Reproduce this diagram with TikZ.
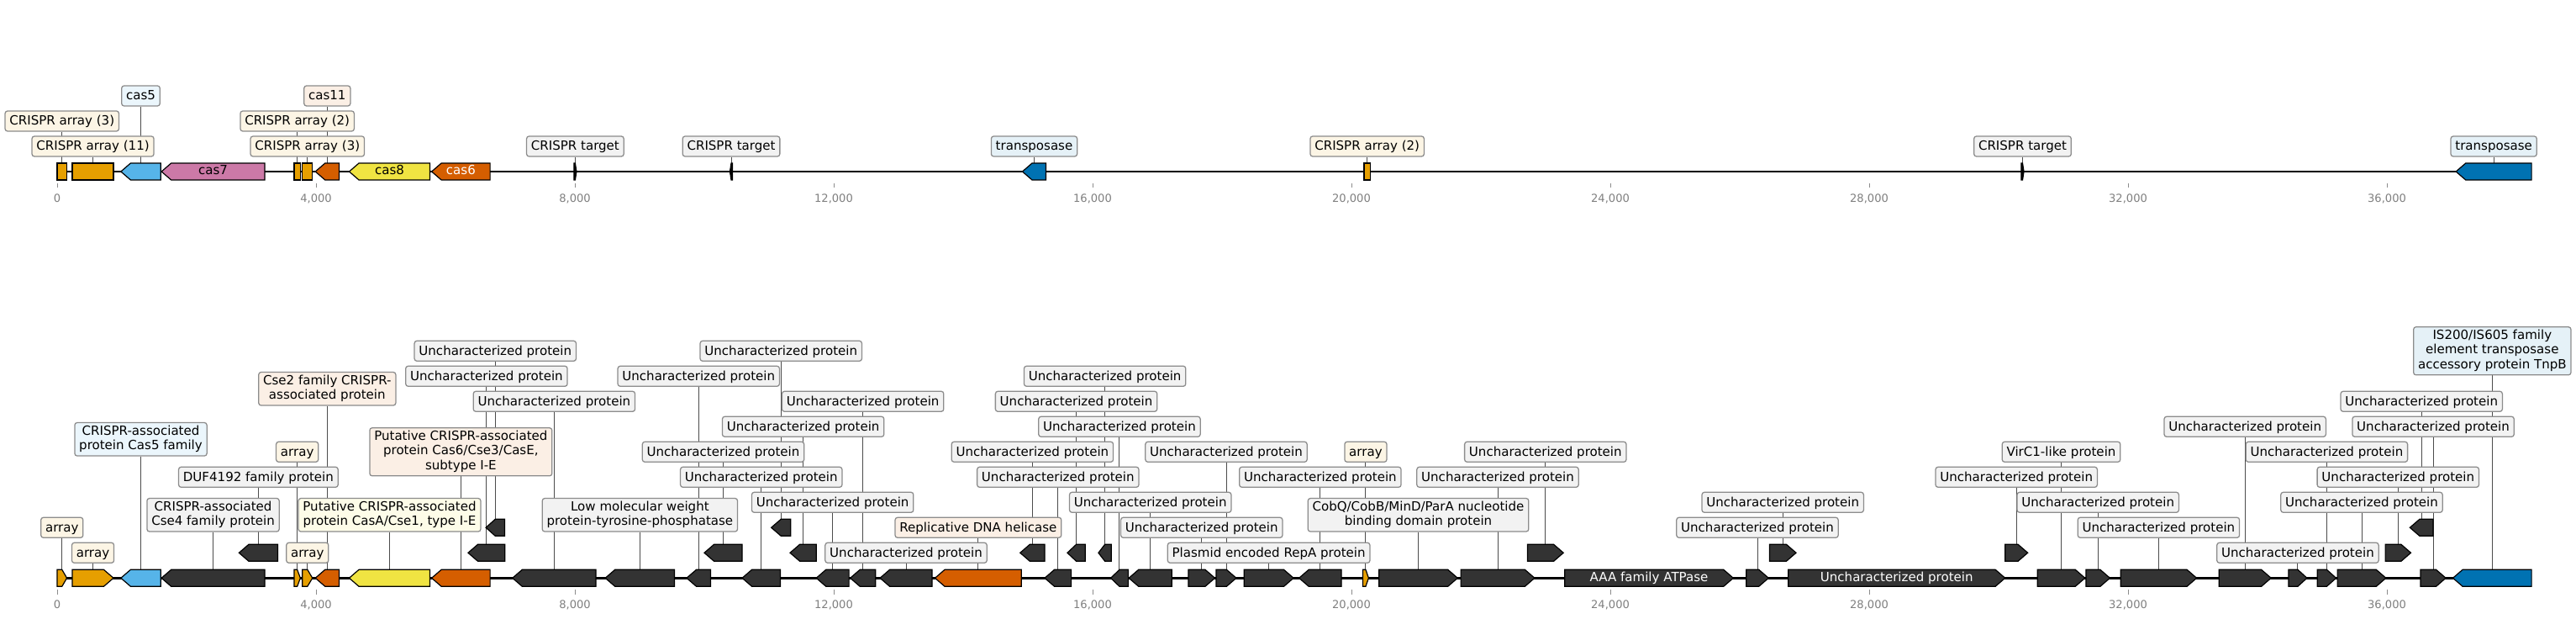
\documentclass[tikz,border=0pt]{standalone}
\usepackage{fontspec}
\setmainfont{DejaVu Sans}
\usetikzlibrary{backgrounds}
\definecolor{crisprorange}{HTML}{E69F00}
\definecolor{casblue}{HTML}{56B4E9}
\definecolor{caspink}{HTML}{CC79A7}
\definecolor{casred}{HTML}{D55E00}
\definecolor{casyellow}{HTML}{F0E442}
\definecolor{tnpblue}{HTML}{0072B2}
\definecolor{hypogray}{HTML}{333333}
\definecolor{labgray}{HTML}{F2F2F2}
\newcommand\labfont{\fontsize{10.7pt}{12.5pt}\selectfont}
\newcommand\axfont{\fontsize{9.3pt}{11pt}\selectfont}
\newcommand\lbst{\rule[-2.9pt]{0pt}{12.5pt}}
\tikzset{
  seqline/.style ={line width=1.8pt, black},
  genebody/.style={draw=black, line width=0.85pt, line join=miter},
  lab/.style     ={draw=black!45, line width=0.9pt, rounded corners=2.1pt, fill=labgray,
                   font=\labfont, align=center, inner xsep=3.8pt, inner ysep=2.3pt,
                   execute at begin node=\lbst, execute at end node=\lbst},
  labcrispr/.style={lab, fill=crisprorange!10},
  labcas5/.style  ={lab, fill=casblue!12},
  labcasred/.style={lab, fill=casred!10},
  labcasyel/.style={lab, fill=casyellow!12},
  labtnp/.style   ={lab, fill=tnpblue!10},
  leader/.style   ={black!70, line width=0.7pt},
  axtick/.style   ={black!45, line width=0.6pt},
  axlab/.style    ={font=\axfont, text=black!50, inner sep=0pt},
  intext/.style   ={font=\labfont, inner sep=0pt, anchor=mid},
}
% gene arrow: name, start (kb), end (kb), y, strand, colour
\newcommand\gene[6]{%
  \pgfmathsetmacro\ghd{min(0.15,0.5*(#3-#2))}%
  \pgfmathsetmacro\glo{#4-0.333}%
  \pgfmathsetmacro\ghi{#4+0.333}%
  \pgfmathsetmacro\gmid{(#2+#3)/2}%
  \ifnum#5>0
    \pgfmathsetmacro\gk{#3-\ghd}%
    \draw[genebody, fill=#6] (#2,\glo) -- (\gk,\glo) -- (#3,#4) -- (\gk,\ghi) -- (#2,\ghi) -- cycle;
  \else\ifnum#5<0
    \pgfmathsetmacro\gk{#2+\ghd}%
    \draw[genebody, fill=#6] (#3,\glo) -- (\gk,\glo) -- (#2,#4) -- (\gk,\ghi) -- (#3,\ghi) -- cycle;
  \else
    \draw[genebody, fill=#6] (#2,\glo) rectangle (#3,\ghi);
  \fi\fi
  \coordinate (#1) at (\gmid,\ghi);}

\begin{document}
\begin{tikzpicture}[x=1.925cm, y=0.75cm]
  \useasboundingbox (-0.8831,-1.623) rectangle (38.922,22.91);

  % ---- top track: CRISPR system overview
  \foreach \nm/\gs/\ge/\gd/\gc in {
      t1/0.000/0.150/0/crisprorange, t2/0.235/0.870/0/crisprorange,
      t3/0.985/1.600/-1/casblue, t4/1.612/3.208/-1/caspink,
      t5/3.662/3.758/0/crisprorange, t6/3.790/3.945/0/crisprorange,
      t7/3.990/4.356/-1/casred, t8/4.513/5.760/-1/casyellow,
      t9/5.787/6.690/-1/casred, t10/7.985/8.025/1/black,
      t11/10.396/10.436/-1/black, t12/14.915/15.280/-1/tnpblue,
      t13/20.195/20.290/0/crisprorange, t14/30.350/30.390/1/black,
      t15/37.067/38.235/-1/tnpblue}
    {\gene{\nm}{\gs}{\ge}{16.11}{\gd}{\gc}}
  \node[intext] (Ncas7) at (t4 |- 0,16.11) {cas7};
  \node[intext] (Ncas8) at (t8 |- 0,16.11) {cas8};
  \node[intext, text=white] (Ncas6) at (t9 |- 0,16.11) {cas6};

  \node[labcrispr] (Lt1)  at (t1 |- 0,18.11)  {CRISPR array (3)};
  \node[labcrispr] (Lt2)  at (t2 |- 0,17.11)  {CRISPR array (11)};
  \node[labcas5]   (Lt3)  at (t3 |- 0,19.11)  {cas5};
  \node[labcrispr] (Lt5)  at (t5 |- 0,18.11)  {CRISPR array (2)};
  \node[labcrispr] (Lt6)  at (t6 |- 0,17.11)  {CRISPR array (3)};
  \node[labcasred] (Lt7)  at (t7 |- 0,19.11)  {cas11};
  \node[lab]       (Lt10) at (t10 |- 0,17.11) {CRISPR target};
  \node[lab]       (Lt11) at (t11 |- 0,17.11) {CRISPR target};
  \node[labtnp]    (Lt12) at (t12 |- 0,17.11) {transposase};
  \node[labcrispr] (Lt13) at (t13 |- 0,17.11) {CRISPR array (2)};
  \node[lab]       (Lt14) at (t14 |- 0,17.11) {CRISPR target};
  \node[labtnp]    (Lt15) at (t15 |- 0,17.11) {transposase};

  % ---- bottom track: all annotated genes
  \foreach \nm/\gs/\ge/\gl/\gd/\gc in {
      b1/0.000/0.150/0/1/crisprorange, b2/0.235/0.870/0/1/crisprorange,
      b3/0.985/1.600/0/-1/casblue, b4/1.612/3.208/0/-1/hypogray,
      b5/2.810/3.408/1/-1/hypogray, b6/3.662/3.758/0/1/crisprorange,
      b7/3.790/3.945/0/1/crisprorange, b8/3.990/4.356/0/-1/casred,
      b9/4.513/5.760/0/-1/casyellow, b10/5.787/6.690/0/-1/casred,
      b11/6.350/6.920/1/-1/hypogray, b12/6.625/6.915/2/-1/hypogray,
      b13/7.036/8.325/0/-1/hypogray, b14/8.470/9.540/0/-1/hypogray,
      b15/9.727/10.098/0/-1/hypogray, b16/10.000/10.585/1/-1/hypogray,
      b17/10.585/11.175/0/-1/hypogray, b18/11.035/11.335/2/-1/hypogray,
      b19/11.325/11.730/1/-1/hypogray, b20/11.730/12.235/0/-1/hypogray,
      b21/12.255/12.645/0/-1/hypogray, b22/12.715/13.520/0/-1/hypogray,
      b23/13.565/14.900/0/-1/casred, b24/14.880/15.260/1/-1/hypogray,
      b25/15.260/15.670/0/-1/hypogray, b26/15.610/15.885/1/-1/hypogray,
      b27/16.090/16.290/1/-1/hypogray, b28/16.280/16.550/0/-1/hypogray,
      b29/16.560/17.225/0/-1/hypogray, b30/17.480/17.890/0/1/hypogray,
      b31/17.910/18.220/0/1/hypogray, b32/18.340/19.105/0/1/hypogray,
      b33/19.190/19.845/0/-1/hypogray, b34/20.175/20.265/0/1/crisprorange,
      b35/20.425/21.640/0/1/hypogray, b36/21.690/22.830/0/1/hypogray,
      b37/22.720/23.275/1/1/hypogray, b38/23.295/25.900/0/1/hypogray,
      b39/26.100/26.445/0/1/hypogray, b40/26.460/26.870/1/1/hypogray,
      b41/26.750/30.100/0/1/hypogray, b42/30.100/30.450/1/1/hypogray,
      b43/30.600/31.335/0/1/hypogray, b44/31.350/31.720/0/1/hypogray,
      b45/31.885/33.060/0/1/hypogray, b46/33.405/34.210/0/1/hypogray,
      b47/34.480/34.765/0/1/hypogray, b48/34.925/35.215/0/1/hypogray,
      b49/35.235/35.985/0/1/hypogray, b50/35.975/36.370/1/1/hypogray,
      b51/36.355/36.715/2/-1/hypogray, b52/36.520/36.910/0/1/hypogray,
      b53/37.020/38.235/0/-1/tnpblue}
    {\gene{\nm}{\gs}{\ge}{\gl}{\gd}{\gc}}
  \node[intext, text=white] (Natp) at (b38 |- 0,0) {AAA family ATPase};
  \node[intext, text=white] (Nhyp) at (b41 |- 0,0) {Uncharacterized protein};

  \node[labcrispr] (Lb1)  at (b1 |- 0,2)    {array};
  \node[labcrispr] (Lb2)  at (b2 |- 0,1)    {array};
  \node[labcas5]   (Lb3)  at (b3 |- 0,5.5)  {CRISPR-associated\\protein Cas5 family};
  \node[lab]       (Lb4)  at (b4 |- 0,2.5)  {CRISPR-associated\\Cse4 family protein};
  \node[lab]       (Lb5)  at (b5 |- 0,4)    {DUF4192 family protein};
  \node[labcrispr] (Lb6)  at (b6 |- 0,5)    {array};
  \node[labcrispr] (Lb7)  at (b7 |- 0,1)    {array};
  \node[labcasred] (Lb8)  at (b8 |- 0,7.5)  {Cse2 family CRISPR-\\associated protein};
  \node[labcasyel] (Lb9)  at (b9 |- 0,2.5)  {Putative CRISPR-associated\\protein CasA/Cse1, type I-E};
  \node[labcasred] (Lb10) at (b10 |- 0,5)   {Putative CRISPR-associated\\protein Cas6/Cse3/CasE,\\subtype I-E};
  \node[lab]       (Lb14) at (b14 |- 0,2.5) {Low molecular weight\\protein-tyrosine-phosphatase};
  \node[labcasred] (Lb23) at (b23 |- 0,2)   {Replicative DNA helicase};
  \node[lab]       (Lb32) at (b32 |- 0,1)   {Plasmid encoded RepA protein};
  \node[labcrispr] (Lb34) at (b34 |- 0,5)   {array};
  \node[lab]       (Lb35) at (b35 |- 0,2.5) {CobQ/CobB/MinD/ParA nucleotide\\binding domain protein};
  \node[lab]       (Lb43) at (b43 |- 0,5)   {VirC1-like protein};
  \node[labtnp]    (Lb53) at (b53 |- 0,9)   {IS200/IS605 family\\element transposase\\accessory protein TnpB};
  \foreach \g/\r in {b11/8, b12/9, b13/7, b15/8, b16/5, b17/4, b18/9, b19/6,
                     b20/3, b21/7, b22/1, b24/5, b25/4, b26/7, b27/8, b28/6,
                     b29/3, b30/2, b31/5, b33/4, b36/4, b37/5, b39/2, b40/3,
                     b42/4, b44/3, b45/2, b46/6, b47/1, b48/5, b49/3, b50/4,
                     b51/7, b52/6}
    \node[lab] (L\g) at (\g |- 0,\r) {Uncharacterized protein};

  % ---- axes
  \foreach \k in {0,4,...,36} {
    \draw[axtick] (\k,15.64) -- (\k,15.47);
    \draw[axtick] (\k,-0.47) -- (\k,-0.64);
    \node[axlab] (tkT\k) at (\k,15.04) {\ifnum\k=0 0\else\k,000\fi};
    \node[axlab] (tkB\k) at (\k,-1.06) {\ifnum\k=0 0\else\k,000\fi};
  }

  % ---- backbone and leader lines behind everything
  \begin{pgfonlayer}{background}
    \fill[white] (-0.8831,-1.623) rectangle (38.922,22.91);
    \coordinate (T0) at (0,16.11);  \coordinate (T1) at (38.235,16.11);
    \coordinate (B0) at (0,0);      \coordinate (B1) at (38.235,0);
    \draw[seqline] (T0) -- (T1);
    \draw[seqline] (B0) -- (B1);
    \foreach \g in {t1,t2,t3,t5,t6,t7,t10,t11,t12,t13,t14,t15}
      \draw[leader] (\g) -- (L\g.south);
    \foreach \g in {b1,b2,b3,b4,b5,b6,b7,b8,b9,b10,b11,b12,b13,b14,b15,b16,
                    b17,b18,b19,b20,b21,b22,b23,b24,b25,b26,b27,b28,b29,b30,
                    b31,b32,b33,b34,b35,b36,b37,b39,b40,b42,b43,b44,b45,b46,
                    b47,b48,b49,b50,b51,b52,b53}
      \draw[leader] (\g) -- (L\g.south);
  \end{pgfonlayer}
\end{tikzpicture}
\end{document}
